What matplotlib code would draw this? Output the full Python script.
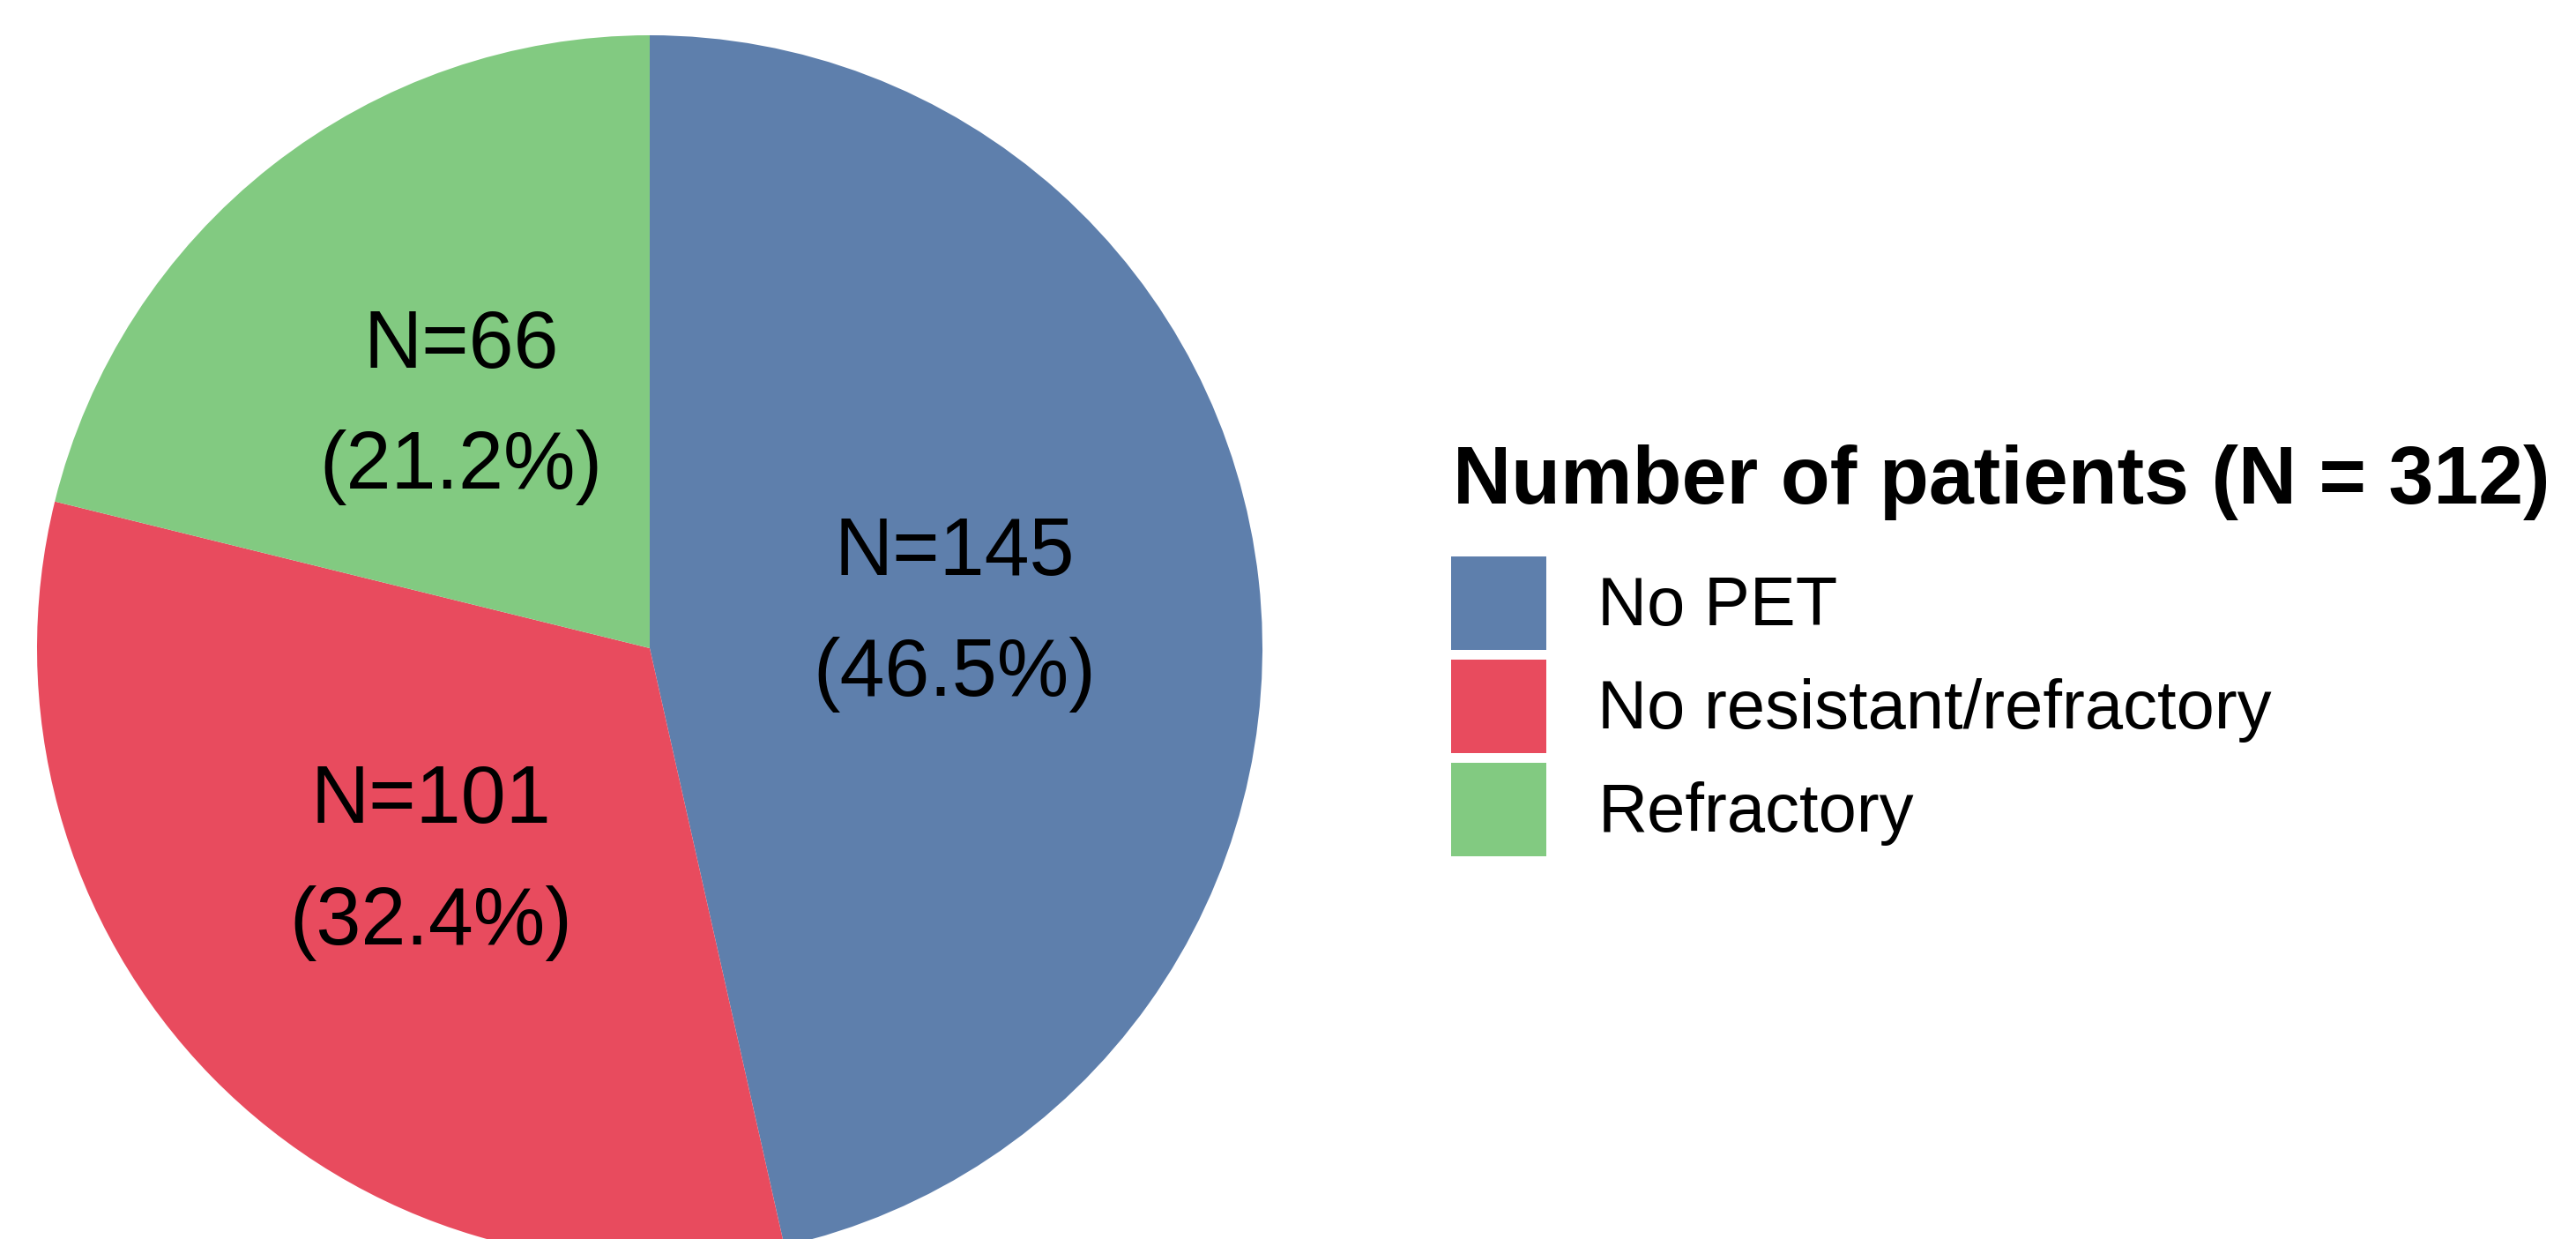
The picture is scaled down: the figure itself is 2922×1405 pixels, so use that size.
import numpy as np
import matplotlib
matplotlib.use("Agg")
import matplotlib.pyplot as plt
import matplotlib.patches as mpatches

plt.rcParams['font.family'] = ['Liberation Sans', 'DejaVu Sans']

# patient groups, clockwise from 12 o'clock
groups = ["No PET", "No resistant/refractory", "Refractory"]
counts = [145, 101, 66]
colors = ["#5E7FAC", "#E84B5E", "#82CA81"]
legend_title = "Number of patients (N = 312)"

W, H = 2922, 1405
fig = plt.figure(figsize=(W / 100, H / 100), dpi=100)
fig.patch.set_facecolor("white")

# pie axes: centre (737, 735) px from top-left, radius 695 px
cx, cy, r = 737, 735, 695
ax = fig.add_axes([(cx - r) / W, (H - cy - r) / H, 2 * r / W, 2 * r / H])
wedges, _ = ax.pie(counts, colors=colors, startangle=90, counterclock=False,
                   radius=1.0, wedgeprops=dict(linewidth=0))
ax.set_xlim(-1, 1)
ax.set_ylim(-1, 1)
ax.set_aspect("equal")
ax.axis("off")

# count and share, halfway out along each wedge's bisector
total = sum(counts)
for w, n in zip(wedges, counts):
    mid = np.deg2rad((w.theta1 + w.theta2) / 2)
    ax.text(0.5 * np.cos(mid), 0.5 * np.sin(mid),
            f"N={n}\n({100 * n / total:.1f}%)",
            ha="center", va="center", multialignment="center",
            fontsize=66, linespacing=1.77, color="black")

# legend
handles = [mpatches.Patch(facecolor=c, edgecolor="none", label=g)
           for c, g in zip(colors, groups)]
fig.legend(handles=handles, loc="upper left",
           bbox_to_anchor=(1646 / W, (H - 631) / H),
           frameon=False, fontsize=56, borderpad=0, borderaxespad=0,
           handlelength=1.39, handleheight=1.72, handletextpad=0.75,
           labelspacing=0.141)
fig.text(1648 / W, (H - 571) / H, legend_title, fontsize=66,
         fontweight="bold", ha="left", va="baseline")

fig.savefig("out.png", dpi=100, facecolor="white")
